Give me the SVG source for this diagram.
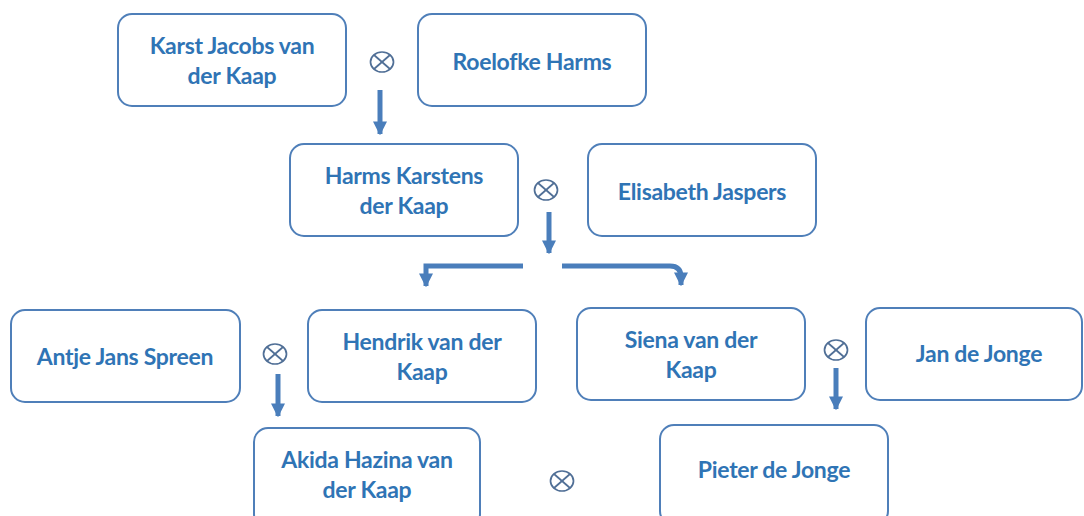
<svg xmlns="http://www.w3.org/2000/svg" width="1084" height="516" viewBox="0 0 1084 516">
  <defs>
    <style>
      .box { fill: #ffffff; stroke: #4f7fb9; stroke-width: 2; }
      .lbl { font-family: Lato, "Liberation Sans", sans-serif; font-weight: bold; font-size: 23px; fill: #2f74b5; text-anchor: middle; letter-spacing: -0.3px; }
      .conn { fill: none; stroke: #4a7ebb; stroke-width: 5; }
      .mar { fill: none; stroke: #506f96; stroke-width: 1.7; }
    </style>
    <marker id="ah" viewBox="0 0 10 10" refX="9" refY="5" markerWidth="2.8" markerHeight="2.8" orient="auto" markerUnits="strokeWidth">
      <path d="M0,0 L10,5 L0,10 Z" fill="#4a7ebb"/>
    </marker>
    <g id="otimes">
      <ellipse cx="0" cy="0" rx="11.5" ry="10" class="mar"/>
      <line x1="-8" y1="-7" x2="8" y2="7" class="mar"/>
      <line x1="-8" y1="7" x2="8" y2="-7" class="mar"/>
    </g>
  </defs>
  <rect width="1084" height="516" fill="#ffffff"/>

  <g id="connectors">
    <path class="conn" d="M380,90 V134" marker-end="url(#ah)"/>
    <path class="conn" d="M549,212 V253" marker-end="url(#ah)"/>
    <path class="conn" d="M523,266 H426 V286" marker-end="url(#ah)"/>
    <path class="conn" d="M562,266 H670 Q681,266 681,277 V285" marker-end="url(#ah)"/>
    <path class="conn" d="M278,374 V416" marker-end="url(#ah)"/>
    <path class="conn" d="M836,368 V409" marker-end="url(#ah)"/>
  </g>

  <g id="marriages">
    <use href="#otimes" x="382" y="62"/>
    <use href="#otimes" x="546" y="190"/>
    <use href="#otimes" x="275" y="354"/>
    <use href="#otimes" x="836" y="350"/>
    <use href="#otimes" x="562" y="481"/>
  </g>

  <g id="karst">
    <rect class="box" x="118" y="14" width="228" height="92" rx="14"/>
    <text class="lbl" x="232" y="54">Karst Jacobs van</text>
    <text class="lbl" x="232" y="84">der Kaap</text>
  </g>
  <g id="roelofke">
    <rect class="box" x="418" y="14" width="228" height="92" rx="14"/>
    <text class="lbl" x="532" y="70">Roelofke Harms</text>
  </g>
  <g id="harms">
    <rect class="box" x="290" y="144" width="228" height="92" rx="14"/>
    <text class="lbl" x="404" y="184">Harms Karstens</text>
    <text class="lbl" x="404" y="214">der Kaap</text>
  </g>
  <g id="elisabeth">
    <rect class="box" x="588" y="144" width="228" height="92" rx="14"/>
    <text class="lbl" x="702" y="200">Elisabeth Jaspers</text>
  </g>
  <g id="antje">
    <rect class="box" x="11" y="310" width="229" height="92" rx="14"/>
    <text class="lbl" x="125" y="365">Antje Jans Spreen</text>
  </g>
  <g id="hendrik">
    <rect class="box" x="308" y="310" width="228" height="92" rx="14"/>
    <text class="lbl" x="422" y="350">Hendrik van der</text>
    <text class="lbl" x="422" y="380">Kaap</text>
  </g>
  <g id="siena">
    <rect class="box" x="577" y="308" width="228" height="92" rx="14"/>
    <text class="lbl" x="691" y="348">Siena van der</text>
    <text class="lbl" x="691" y="378">Kaap</text>
  </g>
  <g id="jan">
    <rect class="box" x="866" y="308" width="216" height="92" rx="14"/>
    <text class="lbl" x="979" y="362">Jan de Jonge</text>
  </g>
  <g id="akida">
    <rect class="box" x="254" y="428" width="226" height="100" rx="14"/>
    <text class="lbl" x="367" y="468">Akida Hazina van</text>
    <text class="lbl" x="367" y="498">der Kaap</text>
  </g>
  <g id="pieter">
    <rect class="box" x="660" y="425" width="228" height="100" rx="14"/>
    <text class="lbl" x="774" y="478">Pieter de Jonge</text>
  </g>
</svg>
